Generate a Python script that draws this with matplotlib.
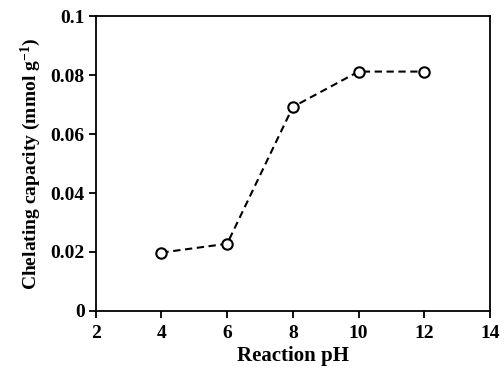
import matplotlib
matplotlib.use("Agg")
import matplotlib.pyplot as plt
from matplotlib.ticker import FuncFormatter

plt.rcParams['font.family'] = 'Liberation Serif'
plt.rcParams['font.weight'] = 'bold'
plt.rcParams['mathtext.fontset'] = 'custom'
plt.rcParams['mathtext.rm'] = 'Liberation Serif:bold'
plt.rcParams['mathtext.it'] = 'Liberation Serif:bold'
plt.rcParams['mathtext.bf'] = 'Liberation Serif:bold'

ph = [4, 6, 8, 10, 12]
capacity = [0.0198, 0.0228, 0.0692, 0.0812, 0.0812]
xticks = [2, 4, 6, 8, 10, 12, 14]
yticks = [0, 0.02, 0.04, 0.06, 0.08, 0.1]

fig = plt.figure(figsize=(5.04, 3.76), dpi=100)
ax = fig.add_axes([0.190, 0.173, 0.782, 0.784])

ax.plot(ph, capacity, linestyle='--', color='black', linewidth=1.5,
        marker='o', markersize=7.5, markerfacecolor='white',
        markeredgecolor='black', markeredgewidth=1.5, dashes=(3.5, 2.2))

ax.set_xlim(2, 14)
ax.set_ylim(0, 0.1)
ax.set_xticks(xticks)
ax.set_yticks(yticks)
ax.yaxis.set_major_formatter(FuncFormatter(lambda v, p: "%g" % v))
ax.tick_params(direction='out', length=5, width=1.3, labelsize=14)
ax.tick_params(axis='x', pad=5)
ax.tick_params(axis='y', pad=3)
for s in ax.spines.values():
    s.set_linewidth(1.3)

ax.set_xlabel('Reaction pH', fontsize=15, fontweight='bold', labelpad=3)
ax.set_ylabel('Chelating capacity (mmol g$^{-1}$)', fontsize=14, fontweight='bold', labelpad=5)

fig.savefig('out.png', dpi=100)
